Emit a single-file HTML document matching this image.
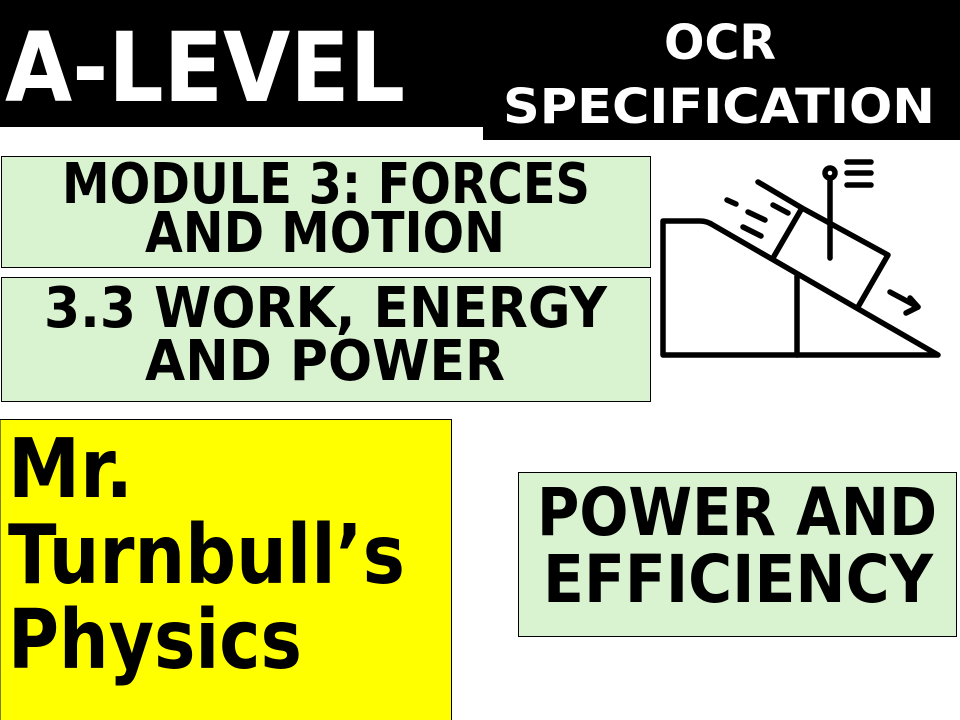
<!DOCTYPE html>
<html><head><meta charset="utf-8"><style>
html,body{margin:0;padding:0;background:#fff;}
svg{display:block;}
text{font-family:"DejaVu Sans","Liberation Sans",sans-serif;font-weight:bold;}
</style></head><body>
<svg width="960" height="720" viewBox="0 0 960 720" xmlns="http://www.w3.org/2000/svg">
<rect x="0" y="0" width="960" height="127" fill="#000"/>
<rect x="483" y="0" width="477" height="140" fill="#000"/>
<text x="5" y="101" font-size="96" fill="#fff" textLength="400" lengthAdjust="spacingAndGlyphs">A-LEVEL</text>
<text x="720" y="59" font-size="48" fill="#fff" text-anchor="middle" textLength="112" lengthAdjust="spacingAndGlyphs">OCR</text>
<text x="503" y="123" font-size="48" fill="#fff" textLength="432" lengthAdjust="spacingAndGlyphs">SPECIFICATION</text>

<rect x="1.5" y="156.5" width="649" height="111" fill="#d9f2d0" stroke="#000" stroke-width="1"/>
<text x="62" y="203" font-size="56" textLength="528" lengthAdjust="spacingAndGlyphs">MODULE 3: FORCES</text>
<text x="145" y="252" font-size="56" textLength="360" lengthAdjust="spacingAndGlyphs">AND MOTION</text>

<rect x="1.5" y="277.5" width="649" height="124" fill="#d9f2d0" stroke="#000" stroke-width="1"/>
<text x="44" y="327" font-size="56" textLength="563" lengthAdjust="spacingAndGlyphs">3.3 WORK, ENERGY</text>
<text x="145" y="380" font-size="56" textLength="360" lengthAdjust="spacingAndGlyphs">AND POWER</text>

<rect x="0" y="419.5" width="451.5" height="301" fill="#ffff00" stroke="#000" stroke-width="1"/>
<text x="8" y="497" font-size="82" textLength="125" lengthAdjust="spacingAndGlyphs">Mr.</text>
<text x="8" y="583" font-size="82" textLength="397" lengthAdjust="spacingAndGlyphs">Turnbull’s</text>
<text x="8" y="668" font-size="82" textLength="294" lengthAdjust="spacingAndGlyphs">Physics</text>

<rect x="518.5" y="472.5" width="438" height="164" fill="#d9f2d0" stroke="#000" stroke-width="1"/>
<text x="537" y="535" font-size="66" textLength="400" lengthAdjust="spacingAndGlyphs">POWER AND</text>
<text x="543" y="602" font-size="66" textLength="390" lengthAdjust="spacingAndGlyphs">EFFICIENCY</text>

<g fill="none" stroke="#000" stroke-width="5.5" stroke-linecap="round" stroke-linejoin="round">
<path d="M663 355 L663 221 L700 221 Q707 221 713 225 L938 355 Z"/>
<line x1="797" y1="276" x2="797" y2="355"/>
<path d="M773 258 L802 208 L888 255 L858 307"/>
<line x1="758" y1="182" x2="802" y2="208"/>
<line x1="830" y1="178" x2="830" y2="258"/>
<circle cx="830" cy="173" r="5"/>
<line x1="847" y1="162" x2="871" y2="162"/>
<line x1="847" y1="173" x2="871" y2="173"/>
<line x1="847" y1="185" x2="871" y2="185"/>
<line x1="890" y1="292" x2="918" y2="307"/>
<path d="M910 298 L918 307 L906 313"/>
<line x1="727" y1="200" x2="736" y2="204"/>
<line x1="748" y1="212" x2="765" y2="220"/>
<line x1="743" y1="227" x2="761" y2="236"/>
<line x1="773" y1="205" x2="788" y2="213"/>
</g>
</svg>
</body></html>
